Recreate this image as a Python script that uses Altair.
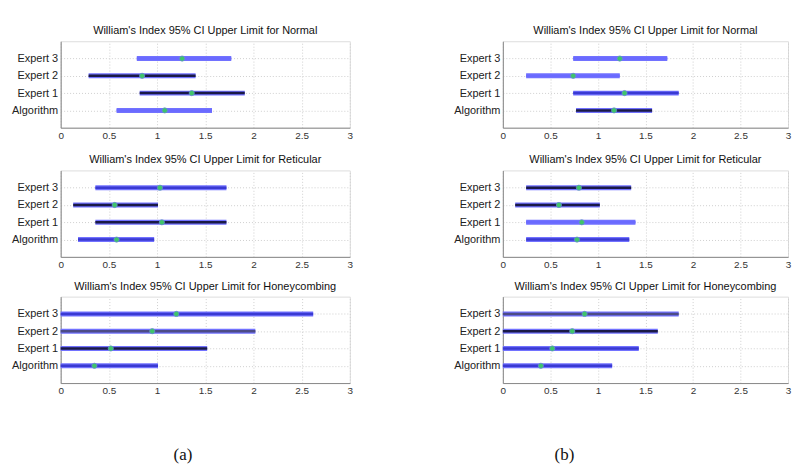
import altair as alt
import pandas as pd

categories = ["Algorithm", "Expert 1", "Expert 2", "Expert 3"]
row_order = ["Expert 3", "Expert 2", "Expert 1", "Algorithm"]
conditions = ["Normal", "Reticular", "Honeycombing"]

# Column (a)
a_normal_lower = [0.58, 0.82, 0.29, 0.79]
a_normal_upper = [1.57, 1.91, 1.40, 1.77]
a_normal_est = [1.08, 1.36, 0.845, 1.26]
a_normal_shade = ["light", "dark", "dark", "light"]

a_ret_lower = [0.18, 0.36, 0.13, 0.36]
a_ret_upper = [0.97, 1.72, 1.01, 1.72]
a_ret_est = [0.58, 1.05, 0.56, 1.03]
a_ret_shade = ["mid", "dark", "dark", "mid"]

a_hc_lower = [0.0, 0.0, 0.0, 0.0]
a_hc_upper = [1.01, 1.52, 2.02, 2.62]
a_hc_est = [0.35, 0.52, 0.95, 1.20]
a_hc_shade = ["mid", "dark", "gray", "mid"]

# Column (b)
b_normal_lower = [0.77, 0.74, 0.245, 0.74]
b_normal_upper = [1.57, 1.85, 1.23, 1.73]
b_normal_est = [1.17, 1.28, 0.74, 1.23]
b_normal_shade = ["dark", "mid", "light", "light"]

b_ret_lower = [0.245, 0.245, 0.13, 0.245]
b_ret_upper = [1.33, 1.395, 1.02, 1.35]
b_ret_est = [0.78, 0.83, 0.59, 0.80]
b_ret_shade = ["mid", "light", "dark", "dark"]

b_hc_lower = [0.0, 0.0, 0.0, 0.0]
b_hc_upper = [1.15, 1.43, 1.63, 1.85]
b_hc_est = [0.40, 0.52, 0.73, 0.86]
b_hc_shade = ["mid", "mid", "dark", "gray"]

x_ticks = [0, 0.5, 1, 1.5, 2, 2.5, 3]
shade_names = ["light", "mid", "dark", "gray"]
shade_colors = ["#6a6aff", "#3a3ad2", "#1a1a46", "#4c4c86"]

FONT = "Liberation Sans"


def panel(cond, lower, upper, est, shade, width):
    df = pd.DataFrame({"cat": categories, "lo": lower, "hi": upper,
                       "est": est, "shade": shade})
    x = alt.X("lo:Q", scale=alt.Scale(domain=[0, 3], nice=False),
              axis=alt.Axis(values=x_ticks, format="~g", title=None, grid=True,
                            gridColor="#cfcfcf", gridDash=[1, 2], labelFlush=False,
                            labelFont=FONT, labelFontSize=10, labelColor="#333",
                            labelPadding=3, ticks=False, domainColor="#888"))
    y = alt.Y("cat:N", scale=alt.Scale(type="point", padding=1, domain=row_order),
              axis=alt.Axis(title=None, grid=True, gridColor="#cfcfcf",
                            gridDash=[1, 2], labelFont=FONT, labelFontSize=11,
                            labelColor="#222", labelPadding=3, ticks=False,
                            domainColor="#888"))
    base = alt.Chart(df)
    halo = base.mark_rule(strokeWidth=5, color="#7272ff").encode(x=x, x2="hi:Q", y=y)
    inner = base.mark_rule(strokeWidth=2.5).encode(
        x="lo:Q", x2="hi:Q", y=alt.Y("cat:N"),
        color=alt.Color("shade:N", scale=alt.Scale(domain=shade_names, range=shade_colors),
                        legend=None))
    dots = base.mark_point(filled=True, shape="circle", size=28, color="#3fc46a",
                           stroke="#6a8ad8", strokeWidth=0.7, opacity=1).encode(
        x="est:Q", y=alt.Y("cat:N"))
    return alt.layer(halo, inner, dots).properties(
        width=width, height=87,
        title=alt.TitleParams(f"William's Index 95% CI Upper Limit for {cond}",
                              font=FONT, fontSize=11, fontWeight="normal",
                              color="#111", offset=5, anchor="middle"))


def caption(text, width, xpos):
    df = pd.DataFrame({"t": [text]})
    return alt.Chart(df, view=alt.ViewBackground(stroke=None)).mark_text(
        font="Liberation Serif", fontSize=17, color="#111").encode(
        x=alt.value(xpos), y=alt.value(58), text="t:N").properties(width=width, height=64)


WA = 291
WB = 287


def column(lows, highs, ests, shades, width, cap, capx):
    p = [panel(c, lo, hi, e, s, width)
         for c, lo, hi, e, s in zip(conditions, lows, highs, ests, shades)]
    top = alt.vconcat(p[0], p[1], spacing=12)
    return alt.vconcat(alt.vconcat(top, p[2], spacing=9), caption(cap, width, capx),
                       spacing=0)


col_a = column([a_normal_lower, a_ret_lower, a_hc_lower],
               [a_normal_upper, a_ret_upper, a_hc_upper],
               [a_normal_est, a_ret_est, a_hc_est],
               [a_normal_shade, a_ret_shade, a_hc_shade], WA, "(a)", 123)
col_b = column([b_normal_lower, b_ret_lower, b_hc_lower],
               [b_normal_upper, b_ret_upper, b_hc_upper],
               [b_normal_est, b_ret_est, b_hc_est],
               [b_normal_shade, b_ret_shade, b_hc_shade], WB, "(b)", 62)

chart = alt.hconcat(col_a, col_b, spacing=100).properties(
    padding={"left": 3, "top": 15, "right": 0, "bottom": 0}
).configure_view(stroke="#888", strokeWidth=1).configure(background="white")

chart.save("out.html", embed_options={"renderer": "svg", "actions": False})
